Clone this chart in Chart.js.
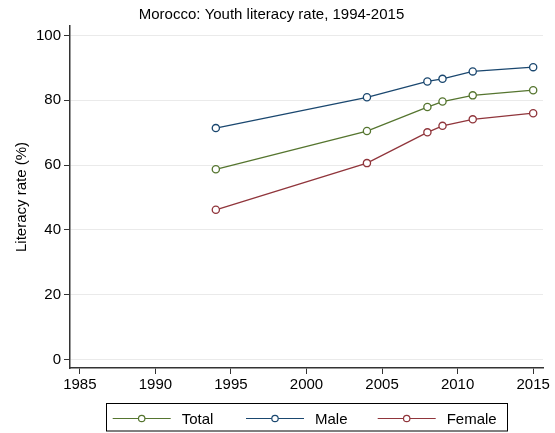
<!DOCTYPE html>
<html>
<head>
<meta charset="utf-8">
<script src="https://cdn.jsdelivr.net/npm/chart.js@4"></script>
<style>
  html, body { margin: 0; padding: 0; background: #fff; }
  #wrap { width: 555px; height: 433px; }
</style>
</head>
<body>
<div id="wrap"><canvas id="chart" width="555" height="433"></canvas></div>
<script>
const years = [1994, 2004, 2008, 2009, 2011, 2015];
const total = [58.7, 70.5, 77.9, 79.6, 81.5, 83.1];
const male = [71.4, 80.9, 85.8, 86.6, 88.9, 90.2];
const female = [46.2, 60.6, 70.1, 72.1, 74.1, 76.0];
const xTicks = [1985, 1990, 1995, 2000, 2005, 2010, 2015];
const yTicks = [0, 20, 40, 60, 80, 100];
const seriesNames = ['Total', 'Male', 'Female'];
const seriesColors = ['#55752f', '#1a476f', '#90353b'];

const FONT = "'Liberation Sans', Arial, sans-serif";

function makeSet(label, values, color) {
  return {
    label: label,
    data: years.map((y, i) => ({ x: y, y: values[i] })),
    borderColor: color,
    backgroundColor: '#ffffff',
    pointBackgroundColor: '#ffffff',
    pointBorderColor: color,
    pointRadius: 3.6,
    pointBorderWidth: 1.3,
    borderWidth: 1.3,
    tension: 0
  };
}

// legend box in the Stata style, drawn under the axis
const boxLegend = {
  id: 'boxLegend',
  afterDraw(chart) {
    const ctx = chart.ctx;
    ctx.save();
    ctx.strokeStyle = '#000';
    ctx.lineWidth = 1;
    ctx.strokeRect(106.5, 403.5, 401, 27.5);
    const cy = 418.5;
    const cxs = [141.7, 275, 406.7];
    ctx.font = '15px ' + FONT;
    ctx.textBaseline = 'middle';
    seriesNames.forEach((name, i) => {
      const cx = cxs[i];
      ctx.strokeStyle = seriesColors[i];
      ctx.lineWidth = 1.2;
      ctx.beginPath();
      ctx.moveTo(cx - 29, cy);
      ctx.lineTo(cx + 29, cy);
      ctx.stroke();
      ctx.fillStyle = '#fff';
      ctx.beginPath();
      ctx.arc(cx, cy, 3.2, 0, Math.PI * 2);
      ctx.fill();
      ctx.stroke();
      ctx.fillStyle = '#000';
      ctx.fillText(name, cx + 40, cy + 1);
    });
    ctx.restore();
  }
};

new Chart(document.getElementById('chart').getContext('2d'), {
  type: 'line',
  data: {
    datasets: [
      makeSet(seriesNames[0], total, seriesColors[0]),
      makeSet(seriesNames[1], male, seriesColors[1]),
      makeSet(seriesNames[2], female, seriesColors[2])
    ]
  },
  options: {
    responsive: false,
    animation: false,
    layout: { padding: { top: 0, right: 12, bottom: 0, left: 0 } },
    plugins: {
      legend: { display: false },
      tooltip: { enabled: false },
      title: {
        display: true,
        text: 'Morocco: Youth literacy rate, 1994-2015',
        color: '#000',
        font: { family: FONT, size: 15, weight: 'normal', lineHeight: 1.2 },
        padding: { top: 6, bottom: 2 }
      }
    },
    scales: {
      x: {
        type: 'linear',
        min: 1984.35,
        max: 2015.65,
        afterBuildTicks: s => { s.ticks = xTicks.map(v => ({ value: v })); },
        afterFit: s => { s.height = 65; },
        grid: { drawOnChartArea: false, drawTicks: true, tickLength: 6, tickColor: '#333', tickWidth: 1 },
        border: { color: '#333', width: 1.5 },
        ticks: { color: '#000', padding: 2, maxRotation: 0, font: { family: FONT, size: 15 }, callback: v => String(v) }
      },
      y: {
        min: -2.6,
        max: 102.9,
        afterBuildTicks: s => { s.ticks = yTicks.map(v => ({ value: v })); },
        afterFit: s => { s.width = 70; },
        grid: { color: '#eaeaea', lineWidth: 1, tickLength: 6, tickColor: '#333', tickWidth: 1 },
        border: { color: '#333', width: 1.5 },
        ticks: { color: '#000', padding: 3, font: { family: FONT, size: 15 } },
        title: {
          display: true,
          text: 'Literacy rate (%)',
          color: '#000',
          font: { family: FONT, size: 15 },
          padding: { top: 13, bottom: 0 }
        }
      }
    }
  },
  plugins: [boxLegend]
});
</script>
</body>
</html>
